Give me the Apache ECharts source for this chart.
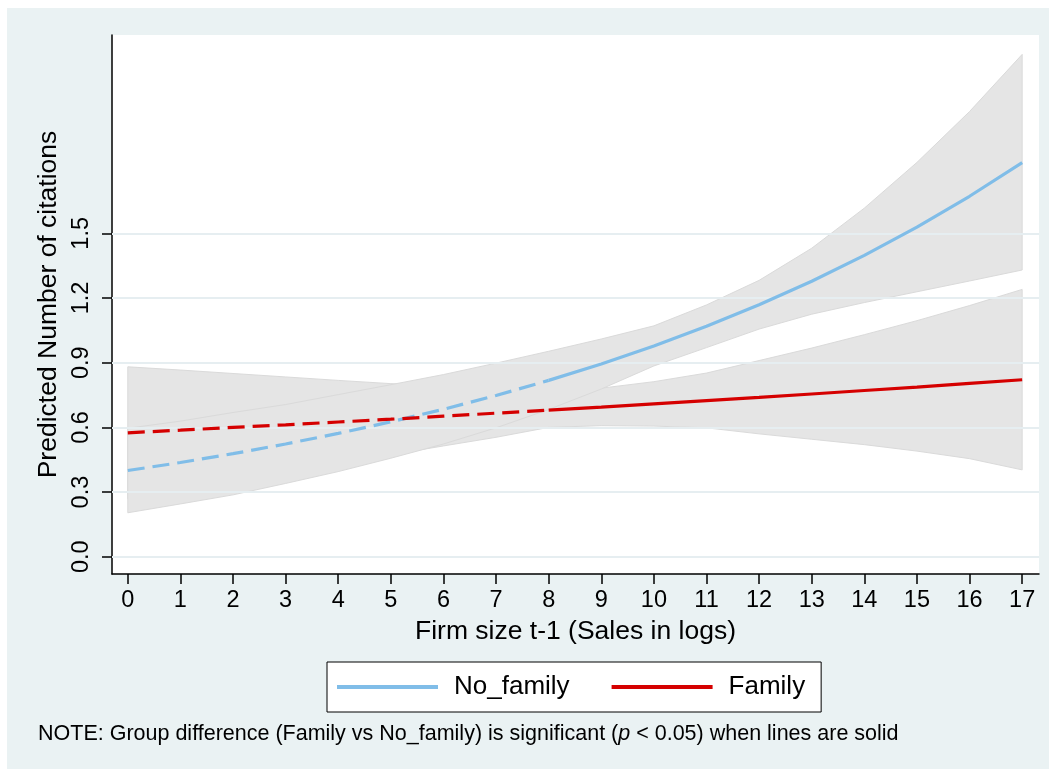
<!DOCTYPE html>
<html>
<head>
<meta charset="utf-8">
<script src="https://cdn.jsdelivr.net/npm/echarts@6/dist/echarts.min.js"></script>
<style>
html,body{margin:0;padding:0;background:#fff;}
#chart{width:1049px;height:769px;}
</style>
</head>
<body>
<div id="chart"></div>
<script>
// ---- data ----
const sizes = [0,1,2,3,4,5,6,7,8,9,10,11,12,13,14,15,16,17];
const noFamily    = [0.400,0.437,0.478,0.523,0.572,0.626,0.684,0.748,0.818,0.894,0.978,1.069,1.169,1.278,1.398,1.529,1.672,1.828];
const noFamilyHi  = [0.596,0.629,0.669,0.706,0.752,0.798,0.845,0.898,0.953,1.010,1.071,1.168,1.282,1.431,1.617,1.829,2.065,2.330];
const noFamilyLo  = [0.204,0.245,0.287,0.340,0.395,0.457,0.523,0.598,0.683,0.778,0.885,0.970,1.056,1.125,1.179,1.229,1.279,1.330];
const family      = [0.575,0.587,0.600,0.612,0.625,0.638,0.652,0.666,0.680,0.694,0.709,0.724,0.739,0.755,0.771,0.787,0.804,0.821];
const familyHi    = [0.881,0.866,0.850,0.834,0.818,0.803,0.790,0.778,0.772,0.782,0.812,0.852,0.910,0.968,1.030,1.095,1.165,1.240];
const familyLo    = [0.269,0.308,0.350,0.390,0.432,0.473,0.514,0.554,0.600,0.608,0.606,0.598,0.570,0.545,0.520,0.490,0.455,0.403];
const sigFromIndex = 8; // lines solid from this point on (significant)
const xTicks = [0,1,2,3,4,5,6,7,8,9,10,11,12,13,14,15,16,17];
const yTicks = [0.0,0.3,0.6,0.9,1.2,1.5];

// ---- styling ----
const FONT = '"Liberation Sans", Arial, Helvetica, sans-serif';
const BLUE = '#80bde8';
const RED = '#d50000';
const BAND = '#e5e5e5';
const EDGE = '#dadada';
const GRIDC = '#e6eef1';
const BG = '#eaf2f3';

function part(xs, ys, from, to){ return xs.map((x,i)=>[x, (i>=from && i<=to) ? ys[i] : null]); }
const last = sizes.length - 1;

// confidence band drawn as one polygon through the axis scales
function bandSeries(lo, hi){
  const rows = sizes.map((x,i)=>[x, lo[i], hi[i]]);
  return {
    type:'custom', data:rows, silent:true, z:2, animation:false,
    encode:{x:0, y:[1,2]},
    renderItem:function(params, api){
      if (params.dataIndex !== 0) return null;
      const upper = rows.map(r=>api.coord([r[0], r[2]]));
      const lower = rows.slice().reverse().map(r=>api.coord([r[0], r[1]]));
      return {type:'polygon', shape:{points: upper.concat(lower)},
              style:{fill:BAND, stroke:EDGE, lineWidth:1}};
    }
  };
}

const chart = echarts.init(document.getElementById('chart'), null, {renderer:'canvas'});

const series = [
  // gridlines (below bands)
  {type:'line', data:[], silent:true, z:1, animation:false,
   markLine:{silent:true, symbol:'none', label:{show:false}, animation:false,
     lineStyle:{color:GRIDC, width:2, type:'solid'},
     data: yTicks.map(v=>({yAxis:v}))}},
  bandSeries(familyLo, familyHi),
  bandSeries(noFamilyLo, noFamilyHi),
  // estimate lines
  {name:'No_family_dash', type:'line', data:part(sizes, noFamily, 0, sigFromIndex), symbol:'none', silent:true,
   lineStyle:{color:BLUE, width:3.2, type:[17,8]}, z:5, animation:false},
  {name:'Family_dash', type:'line', data:part(sizes, family, 0, sigFromIndex), symbol:'none', silent:true,
   lineStyle:{color:RED, width:3.2, type:[17,8]}, z:5, animation:false},
  {name:'No_family', type:'line', data:part(sizes, noFamily, sigFromIndex, last), symbol:'none', silent:true,
   color:BLUE, itemStyle:{color:BLUE}, lineStyle:{color:BLUE, width:3.2}, z:5, animation:false},
  {name:'Family', type:'line', data:part(sizes, family, sigFromIndex, last), symbol:'none', silent:true,
   color:RED, itemStyle:{color:RED}, lineStyle:{color:RED, width:3.2}, z:5, animation:false}
];

chart.setOption({
  backgroundColor:'#ffffff',
  animation:false,
  textStyle:{fontFamily:FONT},
  graphic:[
    {type:'rect', left:7, top:8, z:-10, silent:true,
     shape:{width:1042, height:761}, style:{fill:BG}},
    {type:'text', left:38, top:723, silent:true, z:10,
     style:{text:'NOTE: Group difference (Family vs No_family) is significant ({i|p} < 0.05) when lines are solid',
       fontSize:21.5, fontFamily:FONT, fill:'#000',
       rich:{i:{fontStyle:'italic', fontSize:21.5, fontFamily:FONT, fill:'#000'}}}}
  ],
  grid:{left:112, top:35, right:10, bottom:195, show:true, backgroundColor:'#ffffff', borderWidth:0},
  legend:{
    left:327, top:662,
    data:[{name:'No_family'},{name:'Family'}],
    icon:'rect', itemWidth:101, itemHeight:4, itemGap:42,
    padding:[12,16,12,10],
    backgroundColor:'#ffffff', borderColor:'#000', borderWidth:1, borderRadius:0,
    textStyle:{fontSize:26, fontFamily:FONT, color:'#000', padding:[0,0,0,11]},
    selectedMode:false
  },
  xAxis:{
    type:'value', min:-0.3, max:17.32,
    name:'Firm size t-1 (Sales in logs)', nameLocation:'middle', nameGap:44,
    nameTextStyle:{fontSize:26.5, fontFamily:FONT, color:'#000'},
    axisLine:{show:true, onZero:false, lineStyle:{color:'#000', width:1.5}},
    axisTick:{show:true, length:10, customValues:xTicks, lineStyle:{color:'#000', width:1.5}},
    axisLabel:{show:true, customValues:xTicks, fontSize:23.5, fontFamily:FONT, color:'#000', margin:15,
      formatter:(v)=>String(v)},
    splitLine:{show:false}
  },
  yAxis:{
    type:'value', min:-0.08, max:2.42,
    name:'Predicted Number of citations', nameLocation:'middle', nameGap:35, nameRotate:90,
    nameTextStyle:{fontSize:26.5, fontFamily:FONT, color:'#000'},
    axisLine:{show:true, onZero:false, lineStyle:{color:'#000', width:1.5}},
    axisTick:{show:true, length:10, customValues:yTicks, lineStyle:{color:'#000', width:1.5}},
    axisLabel:{show:true, customValues:yTicks, rotate:90, fontSize:23.5, fontFamily:FONT, color:'#000', margin:18,
      formatter:(v)=>Number(v).toFixed(1)},
    splitLine:{show:false}
  },
  series: series
});
</script>
</body>
</html>
